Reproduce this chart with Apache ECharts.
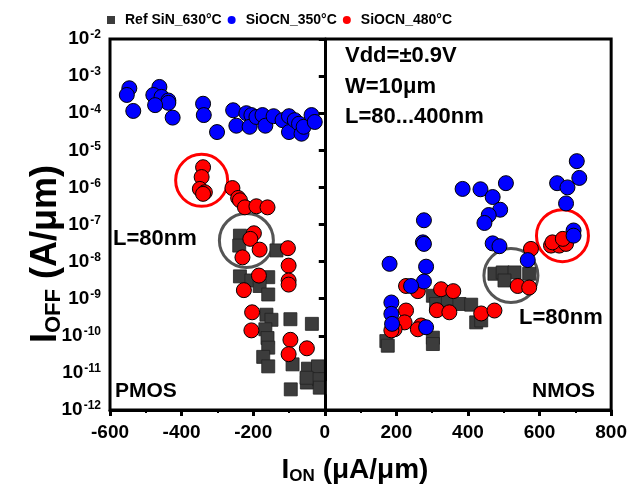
<!DOCTYPE html>
<html><head><meta charset="utf-8">
<script src="https://cdn.jsdelivr.net/npm/echarts@6/dist/echarts.min.js"></script>
<style>html,body{margin:0;padding:0;background:#fff}#c{width:630px;height:495px}</style>
</head><body><div id="c"></div>
<script>
const seriesNames = ['Ref SiN_630°C', 'SiOCN_350°C', 'SiOCN_480°C'];
const xTicks = [-600, -400, -200, 0, 200, 400, 600, 800];
const yTickExponents = [-12, -11, -10, -9, -8, -7, -6, -5, -4, -3, -2];

const refSiN = [
  [-237,5.0e-8],[-239,2.7e-8],[-135,2.0e-8],[-237,4.0e-9],[-205,3.1e-9],[-158,3.8e-9],[-182,2.2e-9],[-158,1.3e-9],
  [-163,3.7e-10],[-149,2.7e-10],[-96,2.8e-10],[-36,2.1e-10],[-166,1.5e-10],[-160,8.7e-11],[-158,4.8e-11],[-172,2.7e-11],
  [-158,1.5e-11],[-90,1.7e-11],[-95,3.6e-12],[-47,1.3e-11],[-19,1.5e-11],[-50,5.5e-12],[-16,6.8e-12],[-14,4.0e-12],[-51,7.4e-12],
  [474,4.7e-9],[497,5.1e-9],[530,5.1e-9],[571,4.7e-9],[502,3.1e-9],[302,1.2e-9],[311,7.2e-10],[344,8.9e-10],[376,7.2e-10],
  [409,6.9e-10],[423,2.3e-10],[437,2.6e-10],[172,7.2e-11],[176,5.4e-11],[302,8.9e-11],[302,6.0e-11]
];
const siocn350 = [
  [-546,4.7e-4],[-553,3.1e-4],[-535,1.15e-4],[-462,5.1e-4],[-479,3.1e-4],[-456,2.75e-4],[-437,2.2e-4],[-437,1.9e-4],
  [-474,1.65e-4],[-425,7.6e-5],[-340,1.8e-4],[-338,8.9e-5],[-301,3.1e-5],[-256,1.2e-4],[-247,4.6e-5],[-219,1.0e-4],
  [-205,8.9e-5],[-210,4.3e-5],[-191,7.9e-5],[-174,8.9e-5],[-166,4.6e-5],[-143,8.3e-5],[-118,6.5e-5],[-100,8.3e-5],
  [-100,3.1e-5],[-84,6.5e-5],[-72,5.2e-5],[-65,2.8e-5],[-59,4.3e-5],[-37,8.9e-5],[-28,5.8e-5],
  [704,5.1e-6],[711,1.8e-6],[649,1.3e-6],[678,1.0e-6],[674,3.7e-7],[695,6.9e-8],[695,5.0e-8],[385,9.1e-7],[435,8.9e-7],
  [506,1.3e-6],[469,5.5e-7],[490,2.5e-7],[458,1.8e-7],[446,1.1e-7],[277,1.3e-7],[274,3.3e-8],[277,3.0e-8],[469,3.1e-8],
  [488,2.6e-8],[181,8.7e-9],[283,7.3e-9],[277,2.9e-9],[241,2.2e-9],[186,7.9e-10],[186,3.9e-10],[188,2.1e-10],[283,1.7e-10],[567,1.1e-8]
];
const siocn480 = [
  [-340,3.5e-6],[-344,1.9e-6],[-349,9.1e-7],[-335,7.4e-7],[-340,6.7e-7],[-258,9.6e-7],[-242,5.2e-7],[-237,4.5e-7],
  [-223,2.9e-7],[-191,3.1e-7],[-160,2.9e-7],[-198,5.8e-8],[-208,4.1e-8],[-182,2.1e-8],[-230,1.3e-8],[-103,2.3e-8],
  [-101,7.8e-9],[-101,3.1e-9],[-101,2.4e-9],[-184,4.2e-9],[-226,1.7e-9],[-203,4.3e-10],[-205,1.4e-10],[-96,7.8e-11],
  [-101,3.2e-11],[-50,4.6e-11],
  [576,2.2e-8],[632,2.7e-8],[655,2.7e-8],[674,3.0e-8],[636,3.3e-8],[665,4.1e-8],[227,2.2e-9],[260,1.6e-9],[325,1.8e-9],
  [359,1.6e-9],[313,4.9e-10],[348,4.3e-10],[227,4.8e-10],[223,2.3e-10],[195,1.5e-10],[269,1.9e-10],[260,1.5e-10],
  [437,4.0e-10],[474,4.8e-10],[539,2.2e-9],[571,2.0e-9],[186,1.4e-10]
];
// highlight rings (data coordinates of centres)
const redRings = [[-344,1.55e-6],[664,5.0e-8]];
const grayRings = [[-219,3.7e-8],[520,4.2e-9]];

const F = 'Liberation Sans, Arial, sans-serif';
const chart = echarts.init(document.getElementById('c'), null, {renderer:'canvas'});
const option = {
  animation: false,
  textStyle: {fontFamily: F},
  legend: {
    data: [
      {name: seriesNames[0], icon: 'path://M0,0L10,0L10,10L0,10Z', itemStyle: {borderWidth: 0}},
      {name: seriesNames[1], icon: 'circle', itemStyle: {borderWidth: 0}},
      {name: seriesNames[2], icon: 'circle', itemStyle: {borderWidth: 0}}
    ],
    left: 102, top: 8, itemWidth: 18, itemHeight: 8, itemGap: 6,
    textStyle: {fontFamily: F, fontWeight: 'bold', fontSize: 14, color: '#000'}
  },
  grid: {left: 110, right: 18, top: 39, bottom: 85, show: true, borderColor: '#000', borderWidth: 3, backgroundColor: 'transparent'},
  xAxis: {
    type: 'value', min: -600, max: 800, interval: 200,
    axisLine: {show: true, lineStyle: {color: '#000', width: 3}},
    axisTick: {show: true, inside: false, length: 6, lineStyle: {color: '#000', width: 3}},
    minorTick: {show: true, splitNumber: 2, length: 3, lineStyle: {color: '#000', width: 2}},
    splitLine: {show: false},
    axisLabel: {margin: 13, fontFamily: F, fontWeight: 'bold', fontSize: 19, color: '#000',
      formatter: v => xTicks.includes(v) ? String(v) : ''}
  },
  yAxis: {
    type: 'log', logBase: 10, min: 1e-12, max: 1e-2,
    axisLine: {show: true, lineStyle: {color: '#000', width: 3}},
    axisTick: {show: true, inside: false, length: 6, lineStyle: {color: '#000', width: 3}},
    splitLine: {show: false},
    axisLabel: {
      margin: 9, color: '#000',
      formatter: v => { const e = Math.round(Math.log10(v)); return yTickExponents.includes(e) ? '{b|10}{s|' + e + '}' : ''; },
      rich: {
        b: {fontFamily: F, fontWeight: 'bold', fontSize: 19, color: '#000', lineHeight: 20},
        s: {fontFamily: F, fontWeight: 'bold', fontSize: 12, color: '#000', verticalAlign: 'top', padding: [0,0,10,1], lineHeight: 12}
      }
    }
  },
  series: [
    {name: 'ring-red', type: 'scatter', data: redRings, symbol: 'circle', symbolSize: 52, silent: true, z: 1,
     itemStyle: {color: 'rgba(0,0,0,0)', borderColor: '#ff0000', borderWidth: 3, opacity: 1}},
    {name: 'ring-gray', type: 'scatter', data: grayRings, symbol: 'circle', symbolSize: 54, silent: true, z: 1,
     itemStyle: {color: 'rgba(0,0,0,0)', borderColor: '#555555', borderWidth: 3, opacity: 1}},
    {name: seriesNames[0], type: 'scatter', data: refSiN, symbol: 'rect', symbolSize: 13, z: 2,
     itemStyle: {color: '#3c3c3c', borderColor: '#222', borderWidth: 0.8, opacity: 1},
     markLine: {silent: true, symbol: 'none', label: {show: false}, lineStyle: {color: '#000', width: 2, type: 'solid'},
       data: [{xAxis: 0}]}},
    {name: seriesNames[2], type: 'scatter', data: siocn480, symbol: 'circle', symbolSize: 15, z: 3,
     itemStyle: {color: '#ff0000', borderColor: '#000', borderWidth: 1, opacity: 1}},
    {name: seriesNames[1], type: 'scatter', data: siocn350, symbol: 'circle', symbolSize: 15, z: 4,
     itemStyle: {color: '#0000ff', borderColor: '#000', borderWidth: 1, opacity: 1}}
  ],
  graphic: [
    {type: 'text', left: 345, top: 45, style: {text: 'Vdd=±0.9V', font: 'bold 22px ' + F, fill: '#000'}},
    {type: 'text', left: 345, top: 76, style: {text: 'W=10μm', font: 'bold 22px ' + F, fill: '#000'}},
    {type: 'text', left: 345, top: 106, style: {text: 'L=80...400nm', font: 'bold 22px ' + F, fill: '#000'}},
    {type: 'text', left: 113, top: 228, style: {text: 'L=80nm', font: 'bold 22px ' + F, fill: '#000'}},
    {type: 'text', left: 519, top: 307, style: {text: 'L=80nm', font: 'bold 22px ' + F, fill: '#000'}},
    {type: 'text', left: 115, top: 381, style: {text: 'PMOS', font: 'bold 21px ' + F, fill: '#000'}},
    {type: 'text', left: 532, top: 381, style: {text: 'NMOS', font: 'bold 21px ' + F, fill: '#000'}},
    {type: 'text', x: 355, y: 470, style: {
      text: '{m|I}{sub|ON}{m| (μA/μm)}', align: 'center', verticalAlign: 'middle',
      rich: {m: {font: 'bold 28px ' + F, fill: '#000'}, sub: {font: 'bold 17px ' + F, fill: '#000', padding: [12,0,0,0]}}
    }},
    {type: 'text', x: 46, y: 254, rotation: Math.PI/2, style: {
      text: '{m|I}{sub|OFF}{m| (A/μm)}', align: 'center', verticalAlign: 'middle',
      rich: {m: {font: 'bold 36px ' + F, fill: '#000'}, sub: {font: 'bold 22px ' + F, fill: '#000', padding: [15,0,0,0]}}
    }}
  ]
};
chart.setOption(option);
</script></body></html>
